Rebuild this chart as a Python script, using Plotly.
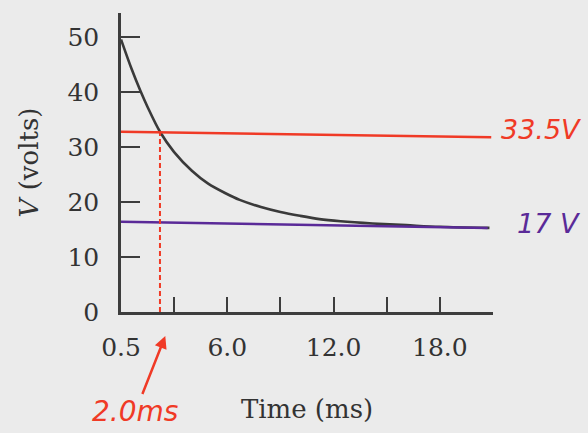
import plotly.graph_objects as go

# Curve: time (ms) and voltage (V)
t_ms = [0.0, 0.6, 1.1, 1.5, 2.2, 3.0, 4.0, 4.9, 5.9, 6.7, 7.9, 9.0, 10.1, 11.2, 12.4, 14.2, 16.1, 18.0, 20.8]
v_volts = [49.6, 44.2, 40.2, 37.3, 32.8, 29.1, 25.7, 23.4, 21.6, 20.4, 19.1, 18.2, 17.5, 16.9, 16.5, 16.1, 15.8, 15.5, 15.3]

# Hand-drawn annotation lines
red_x = [0.0, 20.9]
red_y = [32.8, 31.8]
purple_x = [0.0, 20.7]
purple_y = [16.4, 15.3]
cross_t = [2.2, 2.2]
cross_v = [0.0, 32.8]

x_tickvals = [0, 3, 6, 9, 12, 15, 18, 21]
x_ticktext = ["0.5", "", "6.0", "", "12.0", "", "18.0", ""]
y_tickvals = [0, 10, 20, 30, 40, 50]
y_ticktext = ["0", "10", "20", "30", "40", "50"]

red_label = "33.5V"
purple_label = "17 V"
time_label = "2.0ms"

AX = "#3d3d3d"
TXT = "#333333"
RED = "#f03a26"
PURPLE = "#5a2a98"
SERIF = "DejaVu Serif"
HAND = "DejaVu Sans"

fig = go.Figure()
fig.add_trace(go.Scatter(x=t_ms, y=v_volts, mode="lines",
                         line=dict(color="#3a3a3a", width=2.6, shape="spline", smoothing=0.9), showlegend=False))
fig.add_trace(go.Scatter(x=red_x, y=red_y, mode="lines", line=dict(color=RED, width=2.5), showlegend=False))
fig.add_trace(go.Scatter(x=purple_x, y=purple_y, mode="lines", line=dict(color=PURPLE, width=2.5), showlegend=False))
fig.add_trace(go.Scatter(x=cross_t, y=cross_v, mode="lines", line=dict(color=RED, width=2, dash="5px,3px"), showlegend=False))

fig.update_layout(
    width=588, height=433,
    margin=dict(l=121, r=95, t=13, b=121),
    paper_bgcolor="#ebebeb", plot_bgcolor="#ebebeb",
    font=dict(family=SERIF, color=TXT),
    xaxis=dict(
        range=[0, 21], tickvals=x_tickvals, ticktext=x_ticktext,
        ticks="inside", ticklen=15, tickwidth=2, tickcolor=AX,
        showline=True, linecolor=AX, linewidth=2.5, showgrid=False, zeroline=False,
        tickfont=dict(size=25, family=SERIF, color=TXT), ticklabelstandoff=11,
        title=dict(text="Time (ms)", font=dict(size=26, family=SERIF, color=TXT), standoff=40),
    ),
    yaxis=dict(
        range=[0, 54.4], tickvals=y_tickvals, ticktext=y_ticktext,
        ticks="inside", ticklen=19, tickwidth=2, tickcolor=AX,
        showline=True, linecolor=AX, linewidth=2.5, showgrid=False, zeroline=False,
        tickfont=dict(size=25, family=SERIF, color=TXT), ticklabelstandoff=14,
        title=dict(text="<i>V</i> (volts)", font=dict(size=26, family=SERIF, color=TXT), standoff=22),
    ),
)

fig.add_annotation(x=1.0, xref="paper", y=red_y[1], yref="y", text="<i>" + red_label + "</i>", showarrow=False,
                   xanchor="left", xshift=6, yshift=8, font=dict(size=27, color=RED, family=HAND))
fig.add_annotation(x=1.0, xref="paper", y=purple_y[1], yref="y", text="<i>" + purple_label + "</i>", showarrow=False,
                   xanchor="left", xshift=22, yshift=4, font=dict(size=27, color=PURPLE, family=HAND))
fig.add_annotation(x=cross_t[0] + 0.3, xref="x", y=-0.08, yref="paper", text="<i>" + time_label + "</i>",
                   showarrow=True, arrowhead=2, arrowsize=1.0, arrowwidth=2.5, arrowcolor=RED,
                   ax=-30, ay=76, font=dict(size=28, color=RED, family=HAND))

fig.write_html("out.html", config={"displayModeBar": False},
               post_script="document.body.style.margin='0';document.body.style.background='#ebebeb';")
